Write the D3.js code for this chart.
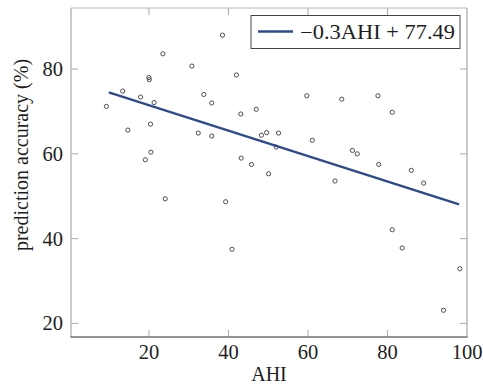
<!DOCTYPE html>
<html><head><meta charset="utf-8">
<script src="https://cdn.jsdelivr.net/npm/d3@7"></script>
<style>body{margin:0;background:#fff}svg{display:block}
text{font-family:"Liberation Serif","Times New Roman","DejaVu Serif",serif;fill:#1e1e1e}</style>
</head><body>
<svg id="c" width="483" height="387"></svg>
<script>
const ahi = [9.3,13.4,14.7,17.9,19.1,20.0,20.1,20.4,20.5,21.3,23.5,24.1,30.8,32.4,33.8,35.8,35.8,38.5,39.3,40.9,42.0,43.1,43.2,45.8,47.0,48.3,49.6,50.1,52.0,52.6,59.7,61.1,66.8,68.5,71.2,72.4,77.6,77.8,81.2,81.2,83.7,86.0,89.1,94.1,98.2];
const accuracy = [71.2,74.8,65.6,73.4,58.6,78.0,77.5,67.0,60.4,72.1,83.6,49.4,80.7,64.9,74.0,72.0,64.2,88.0,48.7,37.5,78.6,69.4,59.0,57.5,70.5,64.4,65.0,55.3,61.6,64.9,73.7,63.2,53.6,72.9,60.8,60.0,73.7,57.5,69.8,42.1,37.8,56.1,53.1,23.1,32.9];
const fitSlope = -0.3;
const fitIntercept = 77.49;
const fitRange = [9.9, 98];
const xTicks = [20,40,60,80,100];
const yTicks = [20,40,60,80];
const legendLabel = "\u22120.3AHI + 77.49";
const xLabel = "AHI";
const yLabel = "prediction accuracy (%)";

const svg = d3.select("#c");
const L=71, R=467, T=8, B=337;
const x = d3.scaleLinear().domain([0.4,100]).range([L,R]);
const y = d3.scaleLinear().domain([16.8,94.4]).range([B,T]);
const tl = 7;

// frame
svg.append("line").attr("x1",L).attr("x2",R).attr("y1",T).attr("y2",T).attr("stroke","#b5b5b5").attr("stroke-width",1);
svg.append("line").attr("x1",R).attr("x2",R).attr("y1",T).attr("y2",B).attr("stroke","#a8a8a8").attr("stroke-width",1.2);
svg.append("line").attr("x1",L).attr("x2",L).attr("y1",T).attr("y2",B).attr("stroke","#a8a8a8").attr("stroke-width",1.2);

// ticks (inward, mirrored)
const tc="#aaaaaa";
xTicks.forEach(v=>{
  if (v<100){
  svg.append("line").attr("x1",x(v)).attr("x2",x(v)).attr("y1",B).attr("y2",B-tl).attr("stroke",tc);
  svg.append("line").attr("x1",x(v)).attr("x2",x(v)).attr("y1",T).attr("y2",T+tl).attr("stroke",tc);}
});
yTicks.forEach(v=>{
  svg.append("line").attr("x1",L).attr("x2",L+tl).attr("y1",y(v)).attr("y2",y(v)).attr("stroke",tc);
  svg.append("line").attr("x1",R).attr("x2",R-tl).attr("y1",y(v)).attr("y2",y(v)).attr("stroke",tc);
});
svg.append("line").attr("x1",L-0.5).attr("x2",R+0.5).attr("y1",B).attr("y2",B).attr("stroke","#707070").attr("stroke-width",1.3);

// tick labels
svg.append("g").selectAll("text").data(xTicks).join("text")
  .attr("x",d=>x(d)).attr("y",358.5).attr("text-anchor","middle")
  .attr("font-size",20.5).text(d=>d);
svg.append("g").selectAll("text").data(yTicks).join("text")
  .attr("x",63).attr("y",d=>y(d)).attr("dy","0.34em").attr("text-anchor","end")
  .attr("font-size",20.5).text(d=>d);

// axis labels
svg.append("text").attr("x",(L+R)/2).attr("y",381).attr("text-anchor","middle")
  .attr("font-size",20).text(xLabel);
svg.append("text").attr("transform","translate(28,155) rotate(-90)").attr("text-anchor","middle")
  .attr("font-size",20).text(yLabel);

// points
svg.append("g").selectAll("circle").data(ahi.map((a,i)=>[a,accuracy[i]])).join("circle")
  .attr("cx",d=>x(d[0])).attr("cy",d=>y(d[1])).attr("r",2.1)
  .attr("fill","none").attr("stroke","#444").attr("stroke-width",0.95);

// fit line
svg.append("line")
  .attr("x1",x(fitRange[0])).attr("y1",y(fitSlope*fitRange[0]+fitIntercept))
  .attr("x2",x(fitRange[1])).attr("y2",y(fitSlope*fitRange[1]+fitIntercept))
  .attr("stroke","#2e4a8f").attr("stroke-width",2.4);

// legend
svg.append("rect").attr("x",251).attr("y",15.5).attr("width",209).attr("height",33)
  .attr("fill","#fff").attr("stroke","#444").attr("stroke-width",1);
svg.append("line").attr("x1",258).attr("x2",293).attr("y1",31.5).attr("y2",31.5)
  .attr("stroke","#2e4a8f").attr("stroke-width",2.4);
svg.append("text").attr("x",300).attr("y",38.5).attr("font-size",20.5)
  .attr("textLength",155).attr("lengthAdjust","spacingAndGlyphs").text(legendLabel);
</script>
</body></html>
